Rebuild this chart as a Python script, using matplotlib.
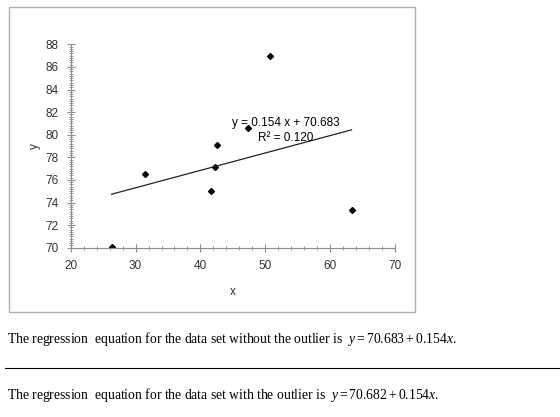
"""Scatter plot with a fitted regression line and notes below it."""

import matplotlib.pyplot as plt
from matplotlib.patches import Rectangle
from matplotlib.ticker import MultipleLocator

# data
x_vals = [26.3, 31.5, 41.7, 42.3, 42.6, 47.3, 50.8, 63.3]
y_vals = [70.1, 76.5, 75.0, 77.1, 79.1, 80.6, 87.0, 73.3]
slope = 0.154
intercept = 70.683
r_squared = 0.120
note_without = "70.683 + 0.154"
note_with = "70.682 + 0.154"

plt.rcParams['mathtext.fontset'] = 'custom'
plt.rcParams['mathtext.rm'] = 'Liberation Serif'
plt.rcParams['mathtext.it'] = 'Liberation Serif:italic'

fig = plt.figure(figsize=(5.6, 4.17), dpi=100)

# grey frame round the chart
fig.patches.append(Rectangle((0.016, 0.252), 0.725, 0.731,
                             transform=fig.transFigure, fill=False,
                             edgecolor='#b0b0b0', linewidth=1.0))

ax = fig.add_axes([0.1263, 0.406, 0.579, 0.4877])

# points and trend line
ax.plot(x_vals, y_vals, linestyle='none', marker='D', markersize=3,
        color='black')
x_line = [min(x_vals), max(x_vals)]
y_line = [slope * v + intercept for v in x_line]
ax.plot(x_line, y_line, color='#222222', linewidth=0.9)

ax.text(53.2, 81.05, "y = %.3f x + %.3f" % (slope, intercept),
        ha='center', va='center', fontsize=8.5, family='Liberation Sans')
ax.text(53.2, 79.75, "R² = %.3f" % r_squared,
        ha='center', va='center', fontsize=8.5, family='Liberation Sans')

# axes look
ax.set_xlim(20, 70)
ax.set_ylim(70, 88)
ax.xaxis.set_major_locator(MultipleLocator(10))
ax.xaxis.set_minor_locator(MultipleLocator(2))
ax.yaxis.set_major_locator(MultipleLocator(2))
ax.yaxis.set_minor_locator(MultipleLocator(0.2))
for side in ['top', 'right']:
    ax.spines[side].set_visible(False)
for side in ['left', 'bottom']:
    ax.spines[side].set_color('#8c8c8c')
ax.tick_params(which='major', direction='inout', length=6, color='#8c8c8c',
               labelsize=8.5, labelcolor='#333333', pad=6)
ax.tick_params(which='minor', direction='inout', length=3, color='#8c8c8c')
for lab in ax.get_xticklabels() + ax.get_yticklabels():
    lab.set_family('Liberation Sans')
ax.set_xlabel("x", fontsize=8.5, family='Liberation Sans', color='#333333',
              labelpad=10)
ax.set_ylabel("y", fontsize=8.5, family='Liberation Sans', color='#333333',
              labelpad=3)

# notes under the chart
fig.text(0.013, 0.187,
         "The regression  equation for the data set without the outlier is  "
         "$y = " + note_without + "x$.",
         fontsize=9.8, family='Liberation Serif', va='center')
fig.add_artist(plt.Line2D([0.009, 1.0], [0.118, 0.118], color='black',
                          linewidth=0.8, transform=fig.transFigure))
fig.text(0.013, 0.052,
         "The regression  equation for the data set with the outlier is  "
         "$y = " + note_with + "x$.",
         fontsize=9.8, family='Liberation Serif', va='center')

plt.savefig("out.png", dpi=100)
